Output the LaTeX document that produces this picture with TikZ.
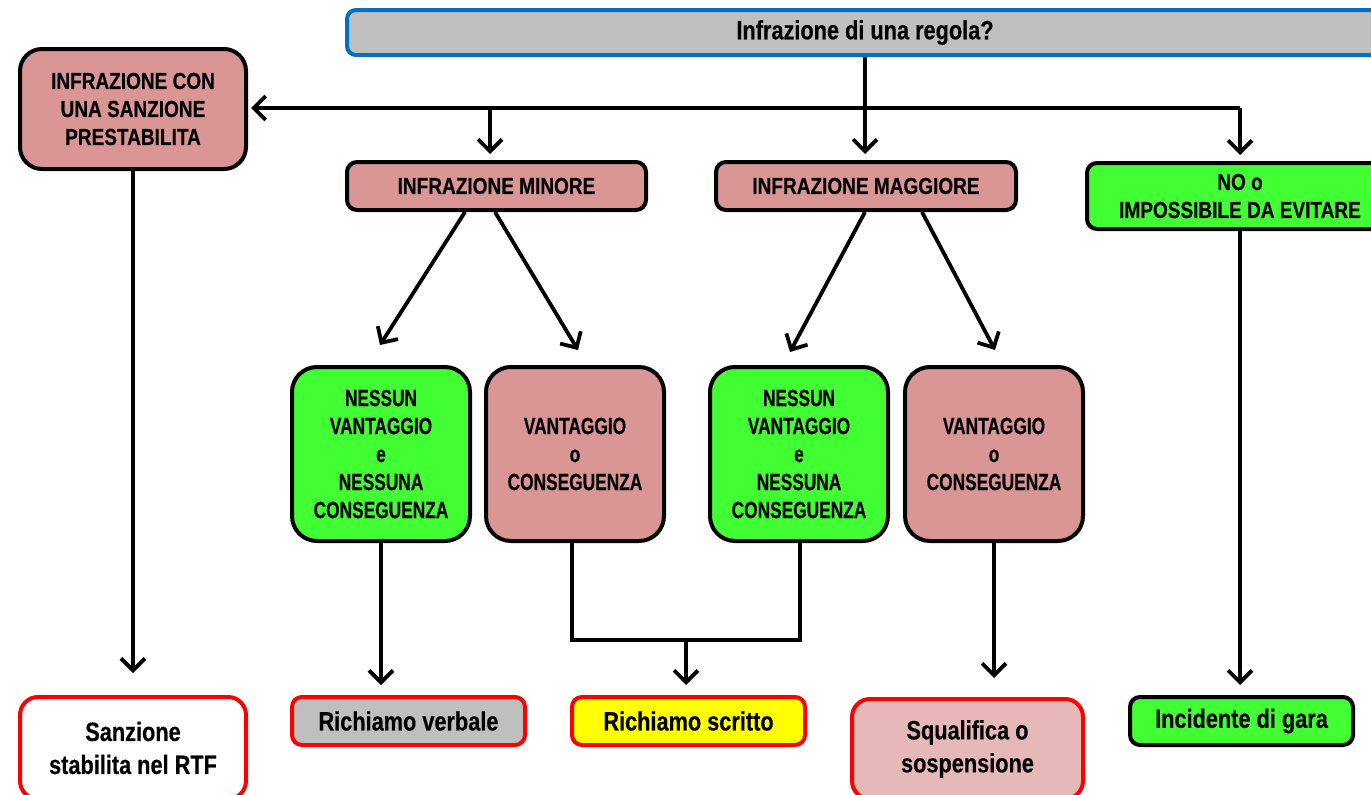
\documentclass[tikz,border=0pt]{standalone}
\usepackage{fontspec}
\newfontfamily\nar{Liberation Sans}[FakeStretch=0.82,BoldFeatures={FakeBold=0.4}]
\newfontfamily\narc{Liberation Sans}[FakeStretch=0.74,BoldFeatures={FakeBold=0.4}]
\usetikzlibrary{arrows.meta,calc}
\definecolor{rose}{RGB}{217,150,148}
\definecolor{lrose}{RGB}{230,185,184}
\definecolor{lgreen}{RGB}{66,255,51}
\definecolor{lgray}{RGB}{191,191,191}
\definecolor{oblue}{RGB}{0,112,192}
\definecolor{ored}{RGB}{255,0,0}
\definecolor{oyellow}{RGB}{255,255,0}
\begin{document}
\begin{tikzpicture}[x=1pt,y=-1pt,
  box/.style={draw=black, line width=4pt, rounded corners=10pt, align=center, inner sep=0pt,
    font=\nar\bfseries\fontsize{23.2}{28}\selectfont},
  midbox/.style={box, rounded corners=25pt, minimum width=178pt, minimum height=174pt,
    font=\narc\bfseries\fontsize{23.4}{28}\selectfont},
  endbox/.style={box, draw=ored, font=\nar\bfseries\fontsize{26.5}{33}\selectfont},
  conn/.style={line width=3.8pt},
  arr/.style={line width=3.8pt, -{Straight Barb[length=12pt,width=24pt]}}]
\useasboundingbox (0,0) rectangle (1371,795);
\clip (0,0) rectangle (1371,795);

% top
\node[box, draw=oblue, fill=lgray, rounded corners=9pt, minimum width=1036pt, minimum height=45pt,
  font=\nar\bfseries\fontsize{26.5}{33}\selectfont] (top) at (865,32.5) {Infrazione di una regola?};

% second level
\node[box, fill=rose, rounded corners=22pt, minimum width=226pt, minimum height=120pt] (left) at (133,109)
  {INFRAZIONE CON\\UNA SANZIONE\\PRESTABILITA};
\node[box, fill=rose, minimum width=299pt, minimum height=48pt] (minor) at (496.5,186) {INFRAZIONE MINORE};
\node[box, fill=rose, minimum width=300pt, minimum height=48pt] (major) at (866,186) {INFRAZIONE MAGGIORE};
\node[box, fill=lgreen, minimum width=306pt, minimum height=66pt] (no) at (1240,196) {NO o\\IMPOSSIBILE DA EVITARE};

% middle row
\node[midbox, fill=lgreen] (g1) at (381,454) {NESSUN\\VANTAGGIO\\e\\NESSUNA\\CONSEGUENZA};
\node[midbox, fill=rose] (p1) at (575,454) {VANTAGGIO\\o\\CONSEGUENZA};
\node[midbox, fill=lgreen] (g2) at (799,454) {NESSUN\\VANTAGGIO\\e\\NESSUNA\\CONSEGUENZA};
\node[midbox, fill=rose] (p2) at (994,454) {VANTAGGIO\\o\\CONSEGUENZA};

% bottom row
\node[endbox, fill=white, rounded corners=18pt, minimum width=226pt, minimum height=102pt] (sz) at (133,748)
  {Sanzione\\stabilita nel RTF};
\node[endbox, fill=lgray, minimum width=233pt, minimum height=48pt] (rv) at (408.5,721) {Richiamo verbale};
\node[endbox, fill=oyellow, minimum width=233pt, minimum height=48pt] (rs) at (688.5,721) {Richiamo scritto};
\node[endbox, fill=lrose, rounded corners=18pt, minimum width=231pt, minimum height=100pt] (sq) at (967.5,749)
  {Squalifica o\\sospensione};
\node[endbox, draw=black, fill=lgreen, minimum width=223pt, minimum height=48pt] (inc) at (1241.5,721) {Incidente di gara};

% connectors from top
\coordinate (hr) at (1240,108);
\coordinate (hm) at (490,108);
\draw[arr, shorten >=6pt] (top.south) -- (top.south |- major.north);
\draw[arr, shorten >=3pt] (hr) -- (left.east |- hr);
\draw[arr, shorten >=6pt] (hr) -- (hr |- no.north);
\draw[arr, shorten >=6pt] (hm) -- (hm |- minor.north);

% diagonals
\draw[arr] ($(minor.south)+(-31.5,0)$) -- ($(g1.north)+(-1,-20)$);
\draw[arr] ($(minor.south)+(-1.5,0)$) -- ($(p1.north)+(3,-15)$);
\draw[arr] ($(major.south)+(-1,0)$) -- ($(g2.north)+(-9,-13)$);
\draw[arr] ($(major.south)+(56,0)$) -- ($(p2.north)+(1,-15)$);

% to bottom
\draw[arr, shorten >=22pt] (left.south) -- (left.south |- sz.north);
\draw[arr, shorten >=10pt] (g1.south) -- (g1.south |- rv.north);
\coordinate (bl) at ($(p1.south)+(-3,0)$);
\coordinate (br) at ($(g2.south)+(1,0)$);
\draw[conn] (bl) -- ++(0,97) -| (br);
\coordinate (bm) at ($(bl)!0.5!(br)+(0,97)$);
\draw[arr, shorten >=10pt] (bm) -- (bm |- rs.north);
\draw[arr, shorten >=19pt] (p2.south) -- (p2.south |- sq.north);
\draw[arr, shorten >=10pt] (no.south) -- (no.south |- inc.north);
\end{tikzpicture}
\end{document}
